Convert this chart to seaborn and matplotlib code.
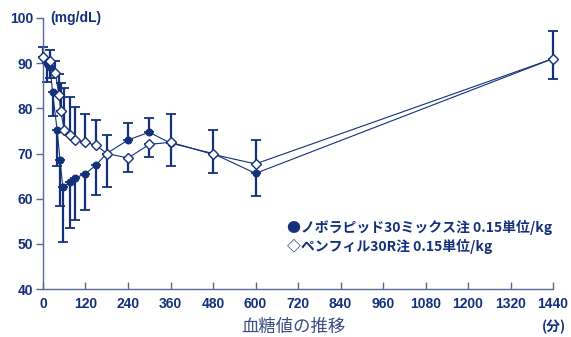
import numpy as np
import pandas as pd
import matplotlib
matplotlib.use("Agg")
import matplotlib.pyplot as plt
import seaborn as sns

# Blood glucose (mg/dL) after subcutaneous injection, mean with one-sided SD bars
mix_time = [10, 20, 27, 40, 48, 56, 75, 90, 120, 150, 180, 240, 300, 360, 480, 600, 1440]
mix_mean = [90.1, 89.2, 83.6, 75.1, 68.6, 62.5, 63.6, 64.6, 65.5, 67.5, 70.0, 73.0, 74.7, 72.3, 70.0, 65.6, 91.0]
mix_err_lo = [4.3, 2.5, 5.2, 7.8, 10.2, 12.0, 10.1, 9.3, 8.0, 6.7, 7.5, 0, 0, 5.1, 4.4, 5.1, 4.6]
mix_err_hi = [0, 0, 0, 0, 0, 0, 0, 0, 0, 0, 0, 3.7, 3.2, 0, 0, 0, 0]

pen_time = [0, 20, 35, 45, 50, 60, 75, 90, 120, 150, 180, 240, 300, 360, 480, 600, 1440]
pen_mean = [91.3, 90.4, 87.8, 83.0, 79.4, 75.3, 74.0, 73.0, 72.5, 71.8, 70.0, 69.0, 72.0, 72.5, 69.8, 67.7, 91.0]
pen_err_lo = [0, 0, 0, 0, 0, 0, 0, 0, 0, 0, 0, 3.1, 2.8, 0, 0, 0, 0]
pen_err_hi = [2.3, 2.5, 2.6, 4.5, 6.1, 9.3, 8.5, 7.2, 6.2, 5.7, 4.2, 0, 0, 6.3, 5.5, 5.3, 6.2]

x_ticks = [0, 120, 240, 360, 480, 600, 720, 840, 960, 1080, 1200, 1320, 1440]
y_ticks = [40, 50, 60, 70, 80, 90, 100]

legend_mix = "●ノボラピッド30ミックス注 0.15単位/kg"
legend_pen = "◇ペンフィル30R注 0.15単位/kg"
y_unit = "(mg/dL)"
x_unit = "(分)"
caption = "血糖値の推移"

navy = "#14307a"
axis_col = "#5a6a98"

sns.set_theme(style="white")
plt.rcParams["font.family"] = ["Liberation Sans", "DejaVu Sans"]
cjk = ["Noto Sans CJK JP", "DejaVu Sans"]

fig = plt.figure(figsize=(5.71, 3.37), dpi=100)
ax = fig.add_axes([0.0753, 0.1424, 0.8932, 0.8042])

df = pd.concat([
    pd.DataFrame({"time": mix_time, "glucose": mix_mean, "group": "mix"}),
    pd.DataFrame({"time": pen_time, "glucose": pen_mean, "group": "pen"}),
])

# Error bars drawn first so the markers sit on top
for t, m, lo, hi in [(mix_time, mix_mean, mix_err_lo, mix_err_hi),
                     (pen_time, pen_mean, pen_err_lo, pen_err_hi)]:
    ax.errorbar(t, m, yerr=[lo, hi], fmt="none", ecolor=navy,
                elinewidth=1.6, capsize=3.8, capthick=1.3, zorder=2,
                clip_on=False)

sns.lineplot(data=df[df.group == "mix"], x="time", y="glucose", ax=ax,
             color=navy, lw=0.8, marker="o", markersize=5,
             markerfacecolor=navy, markeredgecolor=navy, zorder=3,
             legend=False, clip_on=False)
sns.lineplot(data=df[df.group == "pen"], x="time", y="glucose", ax=ax,
             color=navy, lw=0.8, marker="D", markersize=4.8,
             markerfacecolor="white", markeredgecolor=navy, markeredgewidth=1.0,
             zorder=4, legend=False, clip_on=False)

ax.set_xlim(0, 1440)
ax.set_ylim(40, 100)
ax.set_xticks(x_ticks)
ax.set_yticks(y_ticks)
ax.set_xlabel("")
ax.set_ylabel("")
for s in ["top", "right"]:
    ax.spines[s].set_visible(False)
for s in ["left", "bottom"]:
    ax.spines[s].set_color(axis_col)
    ax.spines[s].set_linewidth(1.0)
ax.tick_params(axis="y", direction="out", length=5, width=1.0, color=axis_col,
               labelsize=10, labelcolor=navy, pad=2, left=True)
ax.tick_params(axis="x", direction="in", length=5, width=1.0, color=axis_col,
               labelsize=10, labelcolor=navy, pad=6, bottom=True)
for lab in ax.get_xticklabels() + ax.get_yticklabels():
    lab.set_fontweight("bold")

fig.text(0.0876, 0.947, y_unit, color=navy, fontsize=10, fontweight="bold",
         ha="left", va="center")
fig.text(0.970, 0.030, x_unit, color=navy, fontsize=10, fontweight="bold",
         ha="center", va="center", family=cjk)
fig.text(0.502, 0.326, legend_mix, color=navy, fontsize=10, fontweight="bold",
         ha="left", va="center", family=cjk)
fig.text(0.502, 0.268, legend_pen, color=navy, fontsize=10, fontweight="bold",
         ha="left", va="center", family=cjk)
fig.text(0.513, 0.030, caption, color="#3d4c86", fontsize=12.5,
         ha="center", va="center", family=cjk)

fig.savefig("out.png", dpi=100)
